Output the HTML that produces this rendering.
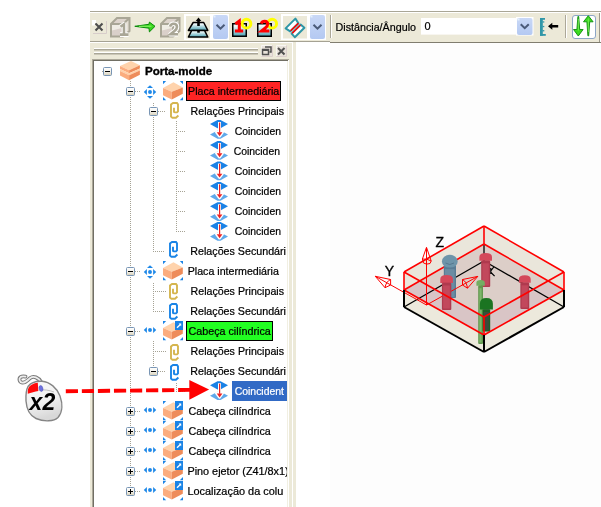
<!DOCTYPE html>
<html><head><meta charset="utf-8"><style>
html,body{margin:0;padding:0;width:601px;height:507px;overflow:hidden;background:#fff}
</style></head><body>
<svg width="601" height="507" viewBox="0 0 601 507" style="position:absolute;left:0;top:0;font-family:'Liberation Sans', sans-serif;will-change:transform">
<defs>
 <linearGradient id="gExp" x1="0" y1="0" x2="0" y2="1">
  <stop offset="0" stop-color="#ffffff"/><stop offset="0.45" stop-color="#F6F4EE"/><stop offset="1" stop-color="#D6CFB8"/>
 </linearGradient>
 <linearGradient id="gTeal" x1="0" y1="0" x2="0" y2="1">
  <stop offset="0" stop-color="#FFFFFF"/><stop offset="0.25" stop-color="#E6F4F6"/><stop offset="1" stop-color="#4AA2B2"/>
 </linearGradient>
 <linearGradient id="gDrop" x1="0" y1="0" x2="0" y2="1">
  <stop offset="0" stop-color="#C9D8F6"/><stop offset="1" stop-color="#B4C9F2"/>
 </linearGradient>
 <g id="expM">
  <rect x="0.5" y="0.5" width="8" height="8" rx="1" fill="url(#gExp)" stroke="#7895B5"/>
  <rect x="2" y="4" width="5" height="1" fill="#000"/>
 </g>
 <g id="expP">
  <rect x="0.5" y="0.5" width="8" height="8" rx="1" fill="url(#gExp)" stroke="#7895B5"/>
  <rect x="2" y="4" width="5" height="1" fill="#000"/>
  <rect x="4" y="2" width="1" height="5" fill="#000"/>
 </g>
 <!-- root stack icon 20x19 -->
 <g id="icStack">
  <polygon points="11,0 19.9,4.2 9.1,9.2 0,5.1" fill="#FFD3AC"/>
  <polygon points="0,5.1 9.1,9.2 9.1,12.2 0,8" fill="#FBAC7E"/>
  <polygon points="9.1,9.2 19.9,4.2 19.9,7.4 9.1,12.2" fill="#EE8C5A"/>
  <polygon points="0,8 9.1,12.2 19.9,7.4 19.9,9.6 9.1,14.2 0,9.9" fill="#FFD0A8"/>
  <polygon points="0,9.9 9.1,14.2 9.1,19.2 0,14.6" fill="#FBAC7E"/>
  <polygon points="9.1,14.2 19.9,9.6 19.9,13.8 9.1,19.2" fill="#EE8C5A"/>
 </g>
 <!-- box icon 20x19 with corners -->
 <g id="icBox">
  <polygon points="0,7 10.5,1.2 19.8,6.5 8.8,10.8" fill="#FFD3AC"/>
  <polygon points="0,7 8.8,10.8 8.8,18.5 0,14.2" fill="#FBAC7E"/>
  <polygon points="8.8,10.8 19.8,6.5 19.8,12.8 8.8,18.5" fill="#EE8C5A"/>
 </g>
 <g id="corners" fill="#1A84E6">
  <polygon points="0,0 3.2,0 0,3.2"/>
  <polygon points="20,0 16.8,0 20,3.2"/>
  <polygon points="0,19.2 0,16 3.2,19.2"/>
  <polygon points="20,19.2 20,16 16.8,19.2"/>
 </g>
 <g id="badge">
  <rect x="0" y="0" width="8" height="9" fill="#1A84E6"/>
  <path d="M2,6.8 L5.6,3.2" stroke="#fff" stroke-width="1.3" fill="none"/>
  <polygon points="3.6,2.6 6.2,2.6 6.2,5.2" fill="#fff"/>
 </g>
 <!-- move icon 14x14 centered at 7,7 -->
 <g id="icMove" fill="#1E88E8">
  <polygon points="7,0.2 10,3 4,3"/>
  <polygon points="7,13.8 10,11 4,11"/>
  <polygon points="0.8,7 3.9,4 3.9,10"/>
  <polygon points="13.2,7 10.1,4 10.1,10"/>
  <circle cx="7" cy="7" r="1.95"/>
 </g>
 <!-- lr icon 14x8, center at 7,4 -->
 <g id="icLR" fill="#1E88E8">
  <polygon points="0.8,4 3.9,1 3.9,7"/>
  <polygon points="13.2,4 10.1,1 10.1,7"/>
  <circle cx="7" cy="4" r="1.95"/>
 </g>
 <!-- paperclip 9x17 -->
 <g id="clip" fill="none" stroke-width="1.9" stroke-linejoin="miter">
  <path d="M4,5.8 V9.9 L5,10.4 H7 L8,9.4 V2.4 L7,1 H3 L1,2.4 V14.6 L2.4,15.8 H6 L8.4,13.5"/>
 </g>
 <!-- coincident icon 18x19 -->
 <g id="icCoin">
  <path d="M7.5,0 H10.5 L18,4 L10.5,8.3 H7.5 L0,4 Z" fill="#1A82E6"/>
  <path d="M7.5,10.5 H10.5 L18,14.6 L10.5,18.8 H7.5 L0,14.6 Z" fill="#5FA9EA"/>
  <path d="M9.5,2 V13 M6.5,12 L9.5,16 L12.5,12 Z" stroke="#fff" stroke-width="3" fill="#fff" stroke-linejoin="round"/>
  <rect x="9" y="2.5" width="1.2" height="10" fill="#EE2222"/>
  <polygon points="6.8,12.3 12.4,12.3 9.6,16.2" fill="#EE2222"/>
 </g>
</defs>
<rect width="601" height="507" fill="#fff"/><rect x="90" y="11" width="511" height="31" fill="#ECE9D8"/><rect x="90" y="11" width="511" height="1" fill="#A9A696"/><rect x="90" y="12" width="511" height="1" fill="#FFFFFF"/><rect x="90" y="41" width="240" height="1" fill="#A5A293"/><rect x="330" y="42" width="271" height="1" fill="#807D6F"/><path d="M92,20 H96 V22 L97,23 H95 V25.5 H92 Z" fill="#FFFFFF"/><path d="M106.5,21 V33.5 H93" stroke="#D8CDCA" fill="none"/><path d="M95.5,23.5 L102.5,30.5 M102.5,23.5 L95.5,30.5" stroke="#4E4E4E" stroke-width="2.1"/><g transform="translate(110,17)"><polygon points="1,7 7,1 19,1 13,7" fill="#DDD4CC"/><rect x="1" y="7" width="12" height="12.5" fill="#EFECE4"/><polygon points="2,13.5 12,11 12,19 2,19" fill="#DAD0CA"/><polygon points="13,7 19,1 19,14 13,19.5" fill="#E6E0D6"/><path d="M1,19.5 V7 L7,1 H19.5 V14 L13,19.5 Z M1,7 H13 V19.5 M13,7 L19.5,1" stroke="#A9A696" stroke-width="2" fill="none" stroke-linejoin="miter"/><path d="M10.5,9.8 L14,7.3 V17.6 M10,17.6 H18.5" stroke="#FFFFFF" stroke-width="4.6" fill="none" stroke-linejoin="round"/><path d="M10.5,9.8 L14,7.3 V17.6 M10,17.6 H18.5" stroke="#A9A696" stroke-width="2.6" fill="none"/></g><g transform="translate(160,17)"><polygon points="1,7 7,1 19,1 13,7" fill="#DDD4CC"/><rect x="1" y="7" width="12" height="12.5" fill="#EFECE4"/><polygon points="2,13.5 12,11 12,19 2,19" fill="#DAD0CA"/><polygon points="13,7 19,1 19,14 13,19.5" fill="#E6E0D6"/><path d="M1,19.5 V7 L7,1 H19.5 V14 L13,19.5 Z M1,7 H13 V19.5 M13,7 L19.5,1" stroke="#A9A696" stroke-width="2" fill="none" stroke-linejoin="miter"/><path d="M10,9.6 Q11,6.8 13.6,6.8 Q17,6.8 17,10 Q17,12 14.2,14.2 L10.5,17.2 H18" stroke="#FFFFFF" stroke-width="4.6" fill="none" stroke-linejoin="round"/><path d="M10,9.6 Q11,6.8 13.6,6.8 Q17,6.8 17,10 Q17,12 14.2,14.2 L10.5,17.2 H18" stroke="#A9A696" stroke-width="2.6" fill="none"/></g><path d="M134.8,26.3 L149,24.3 L149.4,22.1 L155,26.3 L149.4,31.9 L149,28.2 Z" fill="#3AD61E" stroke="#0A8A0A" stroke-width="1" stroke-linejoin="round"/><path d="M139,26.3 L151.5,26.2" stroke="#8CF56A" stroke-width="1"/><rect x="184" y="14" width="45" height="26" fill="#FFFFFF"/><rect x="186" y="16" width="24" height="22.5" fill="#ECE9D8"/><rect x="213" y="15" width="15" height="24" rx="2" fill="url(#gDrop)"/><rect x="213.5" y="15.5" width="2" height="2" fill="#E4F0FC"/><path d="M216.5,24.7 L220.5,28.7 L224.5,24.7" stroke="#4A5A78" stroke-width="2" fill="none"/><polygon points="193.2,22.5 203.7,22.5 207.8,30.4 188.4,30.4" fill="url(#gTeal)" stroke="#000" stroke-width="1.5" stroke-linejoin="round"/><polygon points="191.7,30.4 204.5,30.4 207.8,37 188.4,37" fill="url(#gTeal)" stroke="#000" stroke-width="1.5" stroke-linejoin="round"/><rect x="197.2" y="20" width="2.6" height="6" fill="#000"/><polygon points="195.7,21 201.3,21 198.5,17.6" fill="#000"/><rect x="197.2" y="30.5" width="2.6" height="2.2" fill="#000"/><rect x="232.75" y="23.75" width="13.5" height="12.5" fill="url(#gTeal)" stroke="#000" stroke-width="1.5"/><circle cx="246.5" cy="23.7" r="4.35" fill="none" stroke="#FFFF00" stroke-width="3"/><path d="M235.4,24 L239.3,21 V31 M234.9,31 H243.2" stroke="#FF0000" stroke-width="3" fill="none"/><rect x="257.75" y="23.75" width="13.5" height="12.5" fill="url(#gTeal)" stroke="#000" stroke-width="1.5"/><circle cx="272.2" cy="23.7" r="4.35" fill="none" stroke="#FFFF00" stroke-width="3"/><path d="M261.2,23.6 Q262.2,21.2 264.6,21.2 Q267.7,21.2 267.7,24.2 Q267.7,26.2 265,28.2 L261.6,30.9 H269.4" stroke="#FF0000" stroke-width="3" fill="none"/><rect x="281" y="14" width="45" height="26" fill="#FFFFFF"/><rect x="283" y="16" width="24" height="22.5" fill="#ECE9D8"/><rect x="310" y="15" width="15" height="24" rx="2" fill="url(#gDrop)"/><rect x="310.5" y="15.5" width="2" height="2" fill="#E4F0FC"/><path d="M313.5,24.7 L317.5,28.7 L321.5,24.7" stroke="#4A5A78" stroke-width="2" fill="none"/><polygon points="295.4,18.6 298.4,23.2 290.2,31.4 285.6,28.4" fill="#FFFFFF" stroke="#2E96A6" stroke-width="2" stroke-linejoin="round"/><polygon points="300.6,24.6 304.4,27.8 294.8,37.2 291.6,33.6" fill="#FFFFFF" stroke="#2E96A6" stroke-width="2" stroke-linejoin="round"/><path d="M290.6,30.8 L298.4,23.2 M292.2,33.2 L300.4,25.2" stroke="#FF0000" stroke-width="1.6"/><rect x="330" y="15" width="1" height="23" fill="#ACA899"/><rect x="331" y="15" width="1" height="23" fill="#FFFFFF"/><text x="335.5" y="31" font-size="11" fill="#000" stroke="#000" stroke-width="0.22" textLength="80.5" lengthAdjust="spacingAndGlyphs">Distância/Ângulo</text><rect x="421" y="18" width="95" height="16.6" fill="#FFFFFF"/><rect x="516" y="17" width="17.5" height="18.5" fill="#FFFFFF"/><rect x="517" y="18" width="15.5" height="17" rx="2" fill="url(#gDrop)"/><rect x="517.5" y="18.5" width="2" height="2" fill="#E4F0FC"/><path d="M520.75,24.2 L524.75,28.2 L528.75,24.2" stroke="#4A5A78" stroke-width="2" fill="none"/><text x="424.6" y="29.7" font-size="11" fill="#000" stroke="#000" stroke-width="0.22">0</text><rect x="540" y="18" width="2.8" height="17.8" fill="#3197A8"/><rect x="540" y="18" width="5" height="1.8" fill="#3197A8"/><rect x="540" y="34" width="5.8" height="1.8" fill="#3197A8"/><rect x="542.5" y="21.3" width="1.8" height="1.3" fill="#3197A8"/><rect x="542.5" y="25.9" width="1.8" height="1.3" fill="#3197A8"/><rect x="542.5" y="30.1" width="1.8" height="1.3" fill="#3197A8"/><path d="M548,26.3 L552.3,22.8 L552.3,25 L558.2,25 L558.2,27.6 L552.3,27.6 L552.3,29.8 Z" fill="#000"/><rect x="565" y="15" width="1" height="23" fill="#ACA899"/><rect x="566" y="15" width="1" height="23" fill="#FFFFFF"/><rect x="572.5" y="15.5" width="23" height="23" rx="2.5" fill="#FFFFFF" stroke="#8CA6C6"/><path d="M577.9,16.5 L578.7,16.5 L579.7,29.5 L583.1,29.5 L578.3,36 L573.5,29.5 L576.9,29.5 Z" fill="#3ADA1E" stroke="#0A8A0A" stroke-width="0.9" stroke-linejoin="round"/><path d="M588.3,15.7 L593.1,21.8 L589.7,21.8 L588.7,35.8 L587.9,35.8 L586.9,21.8 L583.5,21.8 Z" fill="#3ADA1E" stroke="#0A8A0A" stroke-width="0.9" stroke-linejoin="round"/><path d="M578.3,19 L578.4,30.5 M588.3,18.5 L588.3,32" stroke="#8CF56A" stroke-width="0.7"/><rect x="599" y="13" width="1" height="29" fill="#9A978A"/><rect x="600" y="12" width="1" height="30" fill="#FFFFFF"/><rect x="330" y="43" width="271" height="464" fill="#FDFDFD"/><polygon points="404,290 484,335 564,290 564,307 484,352 404,307" fill="#ECE9DC"/><polygon points="484,226 564,272 564,290 484,335 404,290 404,272" fill="#EAE6DB"/><polygon points="404,290 484,244 564,290 484,335" fill="#DCCEC8"/><polygon points="419.8,280.9 484,317 548.2,280.9 564,290 484,335 404,290" fill="#D9C5C6"/><line x1="484" y1="261" x2="404" y2="307" stroke="#000" stroke-width="1.3"/><line x1="484" y1="261" x2="564" y2="307" stroke="#000" stroke-width="1.3"/><line x1="484" y1="244" x2="484" y2="261" stroke="#000" stroke-width="1.3"/><line x1="484" y1="226" x2="404" y2="272" stroke="#FF0000" stroke-width="1.6"/><line x1="484" y1="226" x2="564" y2="272" stroke="#FF0000" stroke-width="1.6"/><line x1="484" y1="244" x2="404" y2="290" stroke="#FF0000" stroke-width="1.6"/><line x1="484" y1="244" x2="564" y2="290" stroke="#FF0000" stroke-width="1.6"/><line x1="484" y1="226" x2="484" y2="244" stroke="#FF0000" stroke-width="1.6"/><rect x="443.8" y="265" width="12.2" height="33" rx="1" fill="#587C94"/><rect x="445" y="268" width="9.6" height="29" fill="#6A8CA3"/><ellipse cx="449.8" cy="261.4" rx="7.9" ry="6.6" fill="#6D95AA"/><path d="M445.5,263 Q449.8,266 454,263" stroke="#55788F" stroke-width="1" fill="none"/><rect x="444.5" y="267.5" width="10.8" height="1.6" fill="#587C94"/><rect x="481.2" y="260.8" width="9" height="26.2" rx="1" fill="#B03A4E"/><rect x="482.4" y="263.3" width="6.4" height="22.2" fill="#C2485C"/><path d="M479.4,260.8 V256.9 Q479.4,253 485.7,253 Q492.0,253 492.0,256.9 V260.8 Z" fill="#D4485A"/><rect x="481.7" y="260.3" width="8" height="2.5" fill="#B03A4E" opacity="0.7"/><path d="M490.8,268 V274 M490.8,270.8 L493.8,267 M491,272.5 L494.6,276.2" stroke="#000" stroke-width="1.2" fill="none"/><line x1="426.5" y1="305" x2="426.5" y2="248" stroke="#FF0000" stroke-width="1"/><line x1="426.5" y1="305" x2="375.3" y2="276.3" stroke="#FF0000" stroke-width="1"/><line x1="426.5" y1="305" x2="477.8" y2="276.4" stroke="#FF0000" stroke-width="1"/><path d="M426.5,247.3 L422.4,259 M426.5,247.3 L431.2,261 M422.4,259 L423.5,263 Q426.5,265 430,263.5 L431.2,261 M422.4,259 Q427,258.5 431.2,261" stroke="#FF0000" stroke-width="1" fill="none"/><path d="M375.3,276.3 L390.6,279.5 M375.3,276.3 L385,287.7 M390.6,279.5 L390.6,285 L385,287.7 M390.6,279.5 Q386,281.5 385,287.7" stroke="#FF0000" stroke-width="1" fill="none"/><path d="M477.8,276.4 L462.5,279.5 M477.8,276.4 L467.5,288.2 M462.5,279.5 L462.5,285 L467.5,288.2 M462.5,279.5 Q466.5,281.5 467.5,288.2" stroke="#FF0000" stroke-width="1" fill="none"/><rect x="441.90000000000003" y="283" width="9.4" height="27" rx="1" fill="#B03A4E"/><rect x="443.1" y="285.5" width="6.800000000000001" height="23" fill="#C2485C"/><path d="M440.3,283 V279.0 Q440.3,275 446.6,275 Q452.90000000000003,275 452.90000000000003,279.0 V283 Z" fill="#D4485A"/><rect x="442.40000000000003" y="282.5" width="8.4" height="2.5" fill="#B03A4E" opacity="0.7"/><rect x="520.3499999999999" y="282.8" width="8.9" height="26.20000000000001" rx="1" fill="#B03A4E"/><rect x="521.55" y="285.3" width="6.300000000000001" height="22.20000000000001" fill="#C2485C"/><path d="M518.9,282.8 V279.0 Q518.9,275.2 524.8,275.2 Q530.6999999999999,275.2 530.6999999999999,279.0 V282.8 Z" fill="#D4485A"/><rect x="520.8499999999999" y="282.3" width="7.9" height="2.5" fill="#B03A4E" opacity="0.7"/><rect x="478.20000000000005" y="285.7" width="4.8" height="58.3" rx="1" fill="#62984F"/><rect x="479.40000000000003" y="288.2" width="2.1999999999999997" height="54.3" fill="#7DB86A"/><path d="M476.40000000000003,285.7 V282.85 Q476.40000000000003,280 480.6,280 Q484.8,280 484.8,282.85 V285.7 Z" fill="#73AE62"/><rect x="478.70000000000005" y="285.2" width="3.8" height="2.5" fill="#62984F" opacity="0.7"/><rect x="482.59999999999997" y="309.5" width="7.6" height="22.0" rx="1" fill="#1E5E26"/><rect x="483.79999999999995" y="312.0" width="5.0" height="18.0" fill="#3A4C3C"/><path d="M479.9,309.5 V303.75 Q479.9,298 486.4,298 Q492.9,298 492.9,303.75 V309.5 Z" fill="#1B7421"/><rect x="483.09999999999997" y="309.0" width="6.6" height="2.5" fill="#1E5E26" opacity="0.7"/><line x1="404" y1="272" x2="484" y2="317" stroke="#FF0000" stroke-width="1.6"/><line x1="484" y1="317" x2="564" y2="272" stroke="#FF0000" stroke-width="1.6"/><line x1="404" y1="290" x2="484" y2="335" stroke="#FF0000" stroke-width="1.6"/><line x1="484" y1="335" x2="564" y2="290" stroke="#FF0000" stroke-width="1.6"/><line x1="404" y1="272" x2="404" y2="290" stroke="#FF0000" stroke-width="1.6"/><line x1="564" y1="272" x2="564" y2="290" stroke="#FF0000" stroke-width="1.6"/><line x1="484" y1="317" x2="484" y2="335" stroke="#FF0000" stroke-width="1.6"/><line x1="404" y1="290" x2="404" y2="307" stroke="#000" stroke-width="2"/><line x1="404" y1="307" x2="484" y2="352" stroke="#000" stroke-width="2"/><line x1="484" y1="352" x2="564" y2="307" stroke="#000" stroke-width="2"/><line x1="564" y1="290" x2="564" y2="307" stroke="#000" stroke-width="2"/><line x1="484" y1="335" x2="484" y2="352" stroke="#000" stroke-width="2"/><text x="435.5" y="247.3" font-size="14" fill="#000" stroke="#000" stroke-width="0.35">Z</text><text x="384.8" y="276.3" font-size="14" fill="#000" stroke="#000" stroke-width="0.35">Y</text><rect x="90" y="42" width="203" height="465" fill="#ECE9D8"/><rect x="90" y="42" width="203" height="1" fill="#FFFFFF"/><rect x="94" y="48" width="164" height="1" fill="#FFFFFF"/><rect x="94" y="49" width="164" height="1.5" fill="#A9A696"/><rect x="94" y="52" width="164" height="1" fill="#FFFFFF"/><rect x="94" y="53" width="164" height="1.5" fill="#A9A696"/><rect x="261" y="45.5" width="11.5" height="11" fill="#E8E2DA"/><path d="M261.5,56 V45.5 H272" stroke="#F8F6F2" fill="none"/><path d="M261.5,56.5 H272.5 V45.5" stroke="#DCCFCD" fill="none"/><rect x="276" y="45.5" width="11" height="11" fill="#E8E2DA"/><path d="M276.5,56 V45.5 H286.5" stroke="#F8F6F2" fill="none"/><path d="M276.5,56.5 H286.5 V45.5" stroke="#DCCFCD" fill="none"/><path d="M265,47 H271 V52 H269.5" stroke="#505050" stroke-width="1.5" fill="none"/><rect x="262.5" y="49.5" width="6" height="5" fill="none" stroke="#505050" stroke-width="1.5"/><rect x="262" y="49" width="7" height="2" fill="#505050"/><path d="M278,48 L284.5,54.5 M284.5,48 L278,54.5" stroke="#505050" stroke-width="2"/><rect x="292" y="42" width="1" height="465" fill="#FFFFFF"/><rect x="293" y="42" width="3" height="465" fill="#ECE9D8"/><rect x="92" y="59" width="197" height="460" fill="#ACA899"/><rect x="93" y="60" width="196" height="460" fill="#716F64"/><rect x="94" y="61" width="193" height="460" fill="#FFFFFF"/><rect x="287" y="61" width="1" height="460" fill="#F1EFE2"/><rect x="288" y="60" width="1" height="460" fill="#FFFFFF"/><svg x="94" y="61" width="193" height="446" viewBox="94 61 193 446" overflow="hidden"><rect x="130" y="81" width="1" height="1" fill="#A5A294"/><rect x="130" y="83" width="1" height="1" fill="#A5A294"/><rect x="130" y="85" width="1" height="1" fill="#A5A294"/><rect x="130" y="87" width="1" height="1" fill="#A5A294"/><rect x="130" y="89" width="1" height="1" fill="#A5A294"/><rect x="130" y="91" width="1" height="1" fill="#A5A294"/><rect x="130" y="93" width="1" height="1" fill="#A5A294"/><rect x="130" y="95" width="1" height="1" fill="#A5A294"/><rect x="130" y="97" width="1" height="1" fill="#A5A294"/><rect x="130" y="99" width="1" height="1" fill="#A5A294"/><rect x="130" y="101" width="1" height="1" fill="#A5A294"/><rect x="130" y="103" width="1" height="1" fill="#A5A294"/><rect x="130" y="105" width="1" height="1" fill="#A5A294"/><rect x="130" y="107" width="1" height="1" fill="#A5A294"/><rect x="130" y="109" width="1" height="1" fill="#A5A294"/><rect x="130" y="111" width="1" height="1" fill="#A5A294"/><rect x="130" y="113" width="1" height="1" fill="#A5A294"/><rect x="130" y="115" width="1" height="1" fill="#A5A294"/><rect x="130" y="117" width="1" height="1" fill="#A5A294"/><rect x="130" y="119" width="1" height="1" fill="#A5A294"/><rect x="130" y="121" width="1" height="1" fill="#A5A294"/><rect x="130" y="123" width="1" height="1" fill="#A5A294"/><rect x="130" y="125" width="1" height="1" fill="#A5A294"/><rect x="130" y="127" width="1" height="1" fill="#A5A294"/><rect x="130" y="129" width="1" height="1" fill="#A5A294"/><rect x="130" y="131" width="1" height="1" fill="#A5A294"/><rect x="130" y="133" width="1" height="1" fill="#A5A294"/><rect x="130" y="135" width="1" height="1" fill="#A5A294"/><rect x="130" y="137" width="1" height="1" fill="#A5A294"/><rect x="130" y="139" width="1" height="1" fill="#A5A294"/><rect x="130" y="141" width="1" height="1" fill="#A5A294"/><rect x="130" y="143" width="1" height="1" fill="#A5A294"/><rect x="130" y="145" width="1" height="1" fill="#A5A294"/><rect x="130" y="147" width="1" height="1" fill="#A5A294"/><rect x="130" y="149" width="1" height="1" fill="#A5A294"/><rect x="130" y="151" width="1" height="1" fill="#A5A294"/><rect x="130" y="153" width="1" height="1" fill="#A5A294"/><rect x="130" y="155" width="1" height="1" fill="#A5A294"/><rect x="130" y="157" width="1" height="1" fill="#A5A294"/><rect x="130" y="159" width="1" height="1" fill="#A5A294"/><rect x="130" y="161" width="1" height="1" fill="#A5A294"/><rect x="130" y="163" width="1" height="1" fill="#A5A294"/><rect x="130" y="165" width="1" height="1" fill="#A5A294"/><rect x="130" y="167" width="1" height="1" fill="#A5A294"/><rect x="130" y="169" width="1" height="1" fill="#A5A294"/><rect x="130" y="171" width="1" height="1" fill="#A5A294"/><rect x="130" y="173" width="1" height="1" fill="#A5A294"/><rect x="130" y="175" width="1" height="1" fill="#A5A294"/><rect x="130" y="177" width="1" height="1" fill="#A5A294"/><rect x="130" y="179" width="1" height="1" fill="#A5A294"/><rect x="130" y="181" width="1" height="1" fill="#A5A294"/><rect x="130" y="183" width="1" height="1" fill="#A5A294"/><rect x="130" y="185" width="1" height="1" fill="#A5A294"/><rect x="130" y="187" width="1" height="1" fill="#A5A294"/><rect x="130" y="189" width="1" height="1" fill="#A5A294"/><rect x="130" y="191" width="1" height="1" fill="#A5A294"/><rect x="130" y="193" width="1" height="1" fill="#A5A294"/><rect x="130" y="195" width="1" height="1" fill="#A5A294"/><rect x="130" y="197" width="1" height="1" fill="#A5A294"/><rect x="130" y="199" width="1" height="1" fill="#A5A294"/><rect x="130" y="201" width="1" height="1" fill="#A5A294"/><rect x="130" y="203" width="1" height="1" fill="#A5A294"/><rect x="130" y="205" width="1" height="1" fill="#A5A294"/><rect x="130" y="207" width="1" height="1" fill="#A5A294"/><rect x="130" y="209" width="1" height="1" fill="#A5A294"/><rect x="130" y="211" width="1" height="1" fill="#A5A294"/><rect x="130" y="213" width="1" height="1" fill="#A5A294"/><rect x="130" y="215" width="1" height="1" fill="#A5A294"/><rect x="130" y="217" width="1" height="1" fill="#A5A294"/><rect x="130" y="219" width="1" height="1" fill="#A5A294"/><rect x="130" y="221" width="1" height="1" fill="#A5A294"/><rect x="130" y="223" width="1" height="1" fill="#A5A294"/><rect x="130" y="225" width="1" height="1" fill="#A5A294"/><rect x="130" y="227" width="1" height="1" fill="#A5A294"/><rect x="130" y="229" width="1" height="1" fill="#A5A294"/><rect x="130" y="231" width="1" height="1" fill="#A5A294"/><rect x="130" y="233" width="1" height="1" fill="#A5A294"/><rect x="130" y="235" width="1" height="1" fill="#A5A294"/><rect x="130" y="237" width="1" height="1" fill="#A5A294"/><rect x="130" y="239" width="1" height="1" fill="#A5A294"/><rect x="130" y="241" width="1" height="1" fill="#A5A294"/><rect x="130" y="243" width="1" height="1" fill="#A5A294"/><rect x="130" y="245" width="1" height="1" fill="#A5A294"/><rect x="130" y="247" width="1" height="1" fill="#A5A294"/><rect x="130" y="249" width="1" height="1" fill="#A5A294"/><rect x="130" y="251" width="1" height="1" fill="#A5A294"/><rect x="130" y="253" width="1" height="1" fill="#A5A294"/><rect x="130" y="255" width="1" height="1" fill="#A5A294"/><rect x="130" y="257" width="1" height="1" fill="#A5A294"/><rect x="130" y="259" width="1" height="1" fill="#A5A294"/><rect x="130" y="261" width="1" height="1" fill="#A5A294"/><rect x="130" y="263" width="1" height="1" fill="#A5A294"/><rect x="130" y="265" width="1" height="1" fill="#A5A294"/><rect x="130" y="267" width="1" height="1" fill="#A5A294"/><rect x="130" y="269" width="1" height="1" fill="#A5A294"/><rect x="130" y="271" width="1" height="1" fill="#A5A294"/><rect x="130" y="273" width="1" height="1" fill="#A5A294"/><rect x="130" y="275" width="1" height="1" fill="#A5A294"/><rect x="130" y="277" width="1" height="1" fill="#A5A294"/><rect x="130" y="279" width="1" height="1" fill="#A5A294"/><rect x="130" y="281" width="1" height="1" fill="#A5A294"/><rect x="130" y="283" width="1" height="1" fill="#A5A294"/><rect x="130" y="285" width="1" height="1" fill="#A5A294"/><rect x="130" y="287" width="1" height="1" fill="#A5A294"/><rect x="130" y="289" width="1" height="1" fill="#A5A294"/><rect x="130" y="291" width="1" height="1" fill="#A5A294"/><rect x="130" y="293" width="1" height="1" fill="#A5A294"/><rect x="130" y="295" width="1" height="1" fill="#A5A294"/><rect x="130" y="297" width="1" height="1" fill="#A5A294"/><rect x="130" y="299" width="1" height="1" fill="#A5A294"/><rect x="130" y="301" width="1" height="1" fill="#A5A294"/><rect x="130" y="303" width="1" height="1" fill="#A5A294"/><rect x="130" y="305" width="1" height="1" fill="#A5A294"/><rect x="130" y="307" width="1" height="1" fill="#A5A294"/><rect x="130" y="309" width="1" height="1" fill="#A5A294"/><rect x="130" y="311" width="1" height="1" fill="#A5A294"/><rect x="130" y="313" width="1" height="1" fill="#A5A294"/><rect x="130" y="315" width="1" height="1" fill="#A5A294"/><rect x="130" y="317" width="1" height="1" fill="#A5A294"/><rect x="130" y="319" width="1" height="1" fill="#A5A294"/><rect x="130" y="321" width="1" height="1" fill="#A5A294"/><rect x="130" y="323" width="1" height="1" fill="#A5A294"/><rect x="130" y="325" width="1" height="1" fill="#A5A294"/><rect x="130" y="327" width="1" height="1" fill="#A5A294"/><rect x="130" y="329" width="1" height="1" fill="#A5A294"/><rect x="130" y="331" width="1" height="1" fill="#A5A294"/><rect x="130" y="333" width="1" height="1" fill="#A5A294"/><rect x="130" y="335" width="1" height="1" fill="#A5A294"/><rect x="130" y="337" width="1" height="1" fill="#A5A294"/><rect x="130" y="339" width="1" height="1" fill="#A5A294"/><rect x="130" y="341" width="1" height="1" fill="#A5A294"/><rect x="130" y="343" width="1" height="1" fill="#A5A294"/><rect x="130" y="345" width="1" height="1" fill="#A5A294"/><rect x="130" y="347" width="1" height="1" fill="#A5A294"/><rect x="130" y="349" width="1" height="1" fill="#A5A294"/><rect x="130" y="351" width="1" height="1" fill="#A5A294"/><rect x="130" y="353" width="1" height="1" fill="#A5A294"/><rect x="130" y="355" width="1" height="1" fill="#A5A294"/><rect x="130" y="357" width="1" height="1" fill="#A5A294"/><rect x="130" y="359" width="1" height="1" fill="#A5A294"/><rect x="130" y="361" width="1" height="1" fill="#A5A294"/><rect x="130" y="363" width="1" height="1" fill="#A5A294"/><rect x="130" y="365" width="1" height="1" fill="#A5A294"/><rect x="130" y="367" width="1" height="1" fill="#A5A294"/><rect x="130" y="369" width="1" height="1" fill="#A5A294"/><rect x="130" y="371" width="1" height="1" fill="#A5A294"/><rect x="130" y="373" width="1" height="1" fill="#A5A294"/><rect x="130" y="375" width="1" height="1" fill="#A5A294"/><rect x="130" y="377" width="1" height="1" fill="#A5A294"/><rect x="130" y="379" width="1" height="1" fill="#A5A294"/><rect x="130" y="381" width="1" height="1" fill="#A5A294"/><rect x="130" y="383" width="1" height="1" fill="#A5A294"/><rect x="130" y="385" width="1" height="1" fill="#A5A294"/><rect x="130" y="387" width="1" height="1" fill="#A5A294"/><rect x="130" y="389" width="1" height="1" fill="#A5A294"/><rect x="130" y="391" width="1" height="1" fill="#A5A294"/><rect x="130" y="393" width="1" height="1" fill="#A5A294"/><rect x="130" y="395" width="1" height="1" fill="#A5A294"/><rect x="130" y="397" width="1" height="1" fill="#A5A294"/><rect x="130" y="399" width="1" height="1" fill="#A5A294"/><rect x="130" y="401" width="1" height="1" fill="#A5A294"/><rect x="130" y="403" width="1" height="1" fill="#A5A294"/><rect x="130" y="405" width="1" height="1" fill="#A5A294"/><rect x="130" y="407" width="1" height="1" fill="#A5A294"/><rect x="130" y="409" width="1" height="1" fill="#A5A294"/><rect x="130" y="411" width="1" height="1" fill="#A5A294"/><rect x="130" y="413" width="1" height="1" fill="#A5A294"/><rect x="130" y="415" width="1" height="1" fill="#A5A294"/><rect x="130" y="417" width="1" height="1" fill="#A5A294"/><rect x="130" y="419" width="1" height="1" fill="#A5A294"/><rect x="130" y="421" width="1" height="1" fill="#A5A294"/><rect x="130" y="423" width="1" height="1" fill="#A5A294"/><rect x="130" y="425" width="1" height="1" fill="#A5A294"/><rect x="130" y="427" width="1" height="1" fill="#A5A294"/><rect x="130" y="429" width="1" height="1" fill="#A5A294"/><rect x="130" y="431" width="1" height="1" fill="#A5A294"/><rect x="130" y="433" width="1" height="1" fill="#A5A294"/><rect x="130" y="435" width="1" height="1" fill="#A5A294"/><rect x="130" y="437" width="1" height="1" fill="#A5A294"/><rect x="130" y="439" width="1" height="1" fill="#A5A294"/><rect x="130" y="441" width="1" height="1" fill="#A5A294"/><rect x="130" y="443" width="1" height="1" fill="#A5A294"/><rect x="130" y="445" width="1" height="1" fill="#A5A294"/><rect x="130" y="447" width="1" height="1" fill="#A5A294"/><rect x="130" y="449" width="1" height="1" fill="#A5A294"/><rect x="130" y="451" width="1" height="1" fill="#A5A294"/><rect x="130" y="453" width="1" height="1" fill="#A5A294"/><rect x="130" y="455" width="1" height="1" fill="#A5A294"/><rect x="130" y="457" width="1" height="1" fill="#A5A294"/><rect x="130" y="459" width="1" height="1" fill="#A5A294"/><rect x="130" y="461" width="1" height="1" fill="#A5A294"/><rect x="130" y="463" width="1" height="1" fill="#A5A294"/><rect x="130" y="465" width="1" height="1" fill="#A5A294"/><rect x="130" y="467" width="1" height="1" fill="#A5A294"/><rect x="130" y="469" width="1" height="1" fill="#A5A294"/><rect x="130" y="471" width="1" height="1" fill="#A5A294"/><rect x="130" y="473" width="1" height="1" fill="#A5A294"/><rect x="130" y="475" width="1" height="1" fill="#A5A294"/><rect x="130" y="477" width="1" height="1" fill="#A5A294"/><rect x="130" y="479" width="1" height="1" fill="#A5A294"/><rect x="130" y="481" width="1" height="1" fill="#A5A294"/><rect x="130" y="483" width="1" height="1" fill="#A5A294"/><rect x="130" y="485" width="1" height="1" fill="#A5A294"/><rect x="130" y="487" width="1" height="1" fill="#A5A294"/><rect x="130" y="489" width="1" height="1" fill="#A5A294"/><rect x="130" y="491" width="1" height="1" fill="#A5A294"/><rect x="153" y="103" width="1" height="1" fill="#A5A294"/><rect x="153" y="105" width="1" height="1" fill="#A5A294"/><rect x="153" y="107" width="1" height="1" fill="#A5A294"/><rect x="153" y="109" width="1" height="1" fill="#A5A294"/><rect x="153" y="111" width="1" height="1" fill="#A5A294"/><rect x="153" y="113" width="1" height="1" fill="#A5A294"/><rect x="153" y="115" width="1" height="1" fill="#A5A294"/><rect x="153" y="117" width="1" height="1" fill="#A5A294"/><rect x="153" y="119" width="1" height="1" fill="#A5A294"/><rect x="153" y="121" width="1" height="1" fill="#A5A294"/><rect x="153" y="123" width="1" height="1" fill="#A5A294"/><rect x="153" y="125" width="1" height="1" fill="#A5A294"/><rect x="153" y="127" width="1" height="1" fill="#A5A294"/><rect x="153" y="129" width="1" height="1" fill="#A5A294"/><rect x="153" y="131" width="1" height="1" fill="#A5A294"/><rect x="153" y="133" width="1" height="1" fill="#A5A294"/><rect x="153" y="135" width="1" height="1" fill="#A5A294"/><rect x="153" y="137" width="1" height="1" fill="#A5A294"/><rect x="153" y="139" width="1" height="1" fill="#A5A294"/><rect x="153" y="141" width="1" height="1" fill="#A5A294"/><rect x="153" y="143" width="1" height="1" fill="#A5A294"/><rect x="153" y="145" width="1" height="1" fill="#A5A294"/><rect x="153" y="147" width="1" height="1" fill="#A5A294"/><rect x="153" y="149" width="1" height="1" fill="#A5A294"/><rect x="153" y="151" width="1" height="1" fill="#A5A294"/><rect x="153" y="153" width="1" height="1" fill="#A5A294"/><rect x="153" y="155" width="1" height="1" fill="#A5A294"/><rect x="153" y="157" width="1" height="1" fill="#A5A294"/><rect x="153" y="159" width="1" height="1" fill="#A5A294"/><rect x="153" y="161" width="1" height="1" fill="#A5A294"/><rect x="153" y="163" width="1" height="1" fill="#A5A294"/><rect x="153" y="165" width="1" height="1" fill="#A5A294"/><rect x="153" y="167" width="1" height="1" fill="#A5A294"/><rect x="153" y="169" width="1" height="1" fill="#A5A294"/><rect x="153" y="171" width="1" height="1" fill="#A5A294"/><rect x="153" y="173" width="1" height="1" fill="#A5A294"/><rect x="153" y="175" width="1" height="1" fill="#A5A294"/><rect x="153" y="177" width="1" height="1" fill="#A5A294"/><rect x="153" y="179" width="1" height="1" fill="#A5A294"/><rect x="153" y="181" width="1" height="1" fill="#A5A294"/><rect x="153" y="183" width="1" height="1" fill="#A5A294"/><rect x="153" y="185" width="1" height="1" fill="#A5A294"/><rect x="153" y="187" width="1" height="1" fill="#A5A294"/><rect x="153" y="189" width="1" height="1" fill="#A5A294"/><rect x="153" y="191" width="1" height="1" fill="#A5A294"/><rect x="153" y="193" width="1" height="1" fill="#A5A294"/><rect x="153" y="195" width="1" height="1" fill="#A5A294"/><rect x="153" y="197" width="1" height="1" fill="#A5A294"/><rect x="153" y="199" width="1" height="1" fill="#A5A294"/><rect x="153" y="201" width="1" height="1" fill="#A5A294"/><rect x="153" y="203" width="1" height="1" fill="#A5A294"/><rect x="153" y="205" width="1" height="1" fill="#A5A294"/><rect x="153" y="207" width="1" height="1" fill="#A5A294"/><rect x="153" y="209" width="1" height="1" fill="#A5A294"/><rect x="153" y="211" width="1" height="1" fill="#A5A294"/><rect x="153" y="213" width="1" height="1" fill="#A5A294"/><rect x="153" y="215" width="1" height="1" fill="#A5A294"/><rect x="153" y="217" width="1" height="1" fill="#A5A294"/><rect x="153" y="219" width="1" height="1" fill="#A5A294"/><rect x="153" y="221" width="1" height="1" fill="#A5A294"/><rect x="153" y="223" width="1" height="1" fill="#A5A294"/><rect x="153" y="225" width="1" height="1" fill="#A5A294"/><rect x="153" y="227" width="1" height="1" fill="#A5A294"/><rect x="153" y="229" width="1" height="1" fill="#A5A294"/><rect x="153" y="231" width="1" height="1" fill="#A5A294"/><rect x="153" y="233" width="1" height="1" fill="#A5A294"/><rect x="153" y="235" width="1" height="1" fill="#A5A294"/><rect x="153" y="237" width="1" height="1" fill="#A5A294"/><rect x="153" y="239" width="1" height="1" fill="#A5A294"/><rect x="153" y="241" width="1" height="1" fill="#A5A294"/><rect x="153" y="243" width="1" height="1" fill="#A5A294"/><rect x="153" y="245" width="1" height="1" fill="#A5A294"/><rect x="153" y="247" width="1" height="1" fill="#A5A294"/><rect x="153" y="249" width="1" height="1" fill="#A5A294"/><rect x="153" y="251" width="1" height="1" fill="#A5A294"/><rect x="153" y="283" width="1" height="1" fill="#A5A294"/><rect x="153" y="285" width="1" height="1" fill="#A5A294"/><rect x="153" y="287" width="1" height="1" fill="#A5A294"/><rect x="153" y="289" width="1" height="1" fill="#A5A294"/><rect x="153" y="291" width="1" height="1" fill="#A5A294"/><rect x="153" y="293" width="1" height="1" fill="#A5A294"/><rect x="153" y="295" width="1" height="1" fill="#A5A294"/><rect x="153" y="297" width="1" height="1" fill="#A5A294"/><rect x="153" y="299" width="1" height="1" fill="#A5A294"/><rect x="153" y="301" width="1" height="1" fill="#A5A294"/><rect x="153" y="303" width="1" height="1" fill="#A5A294"/><rect x="153" y="305" width="1" height="1" fill="#A5A294"/><rect x="153" y="307" width="1" height="1" fill="#A5A294"/><rect x="153" y="309" width="1" height="1" fill="#A5A294"/><rect x="153" y="311" width="1" height="1" fill="#A5A294"/><rect x="153" y="341" width="1" height="1" fill="#A5A294"/><rect x="153" y="343" width="1" height="1" fill="#A5A294"/><rect x="153" y="345" width="1" height="1" fill="#A5A294"/><rect x="153" y="347" width="1" height="1" fill="#A5A294"/><rect x="153" y="349" width="1" height="1" fill="#A5A294"/><rect x="153" y="351" width="1" height="1" fill="#A5A294"/><rect x="153" y="353" width="1" height="1" fill="#A5A294"/><rect x="153" y="355" width="1" height="1" fill="#A5A294"/><rect x="153" y="357" width="1" height="1" fill="#A5A294"/><rect x="153" y="359" width="1" height="1" fill="#A5A294"/><rect x="153" y="361" width="1" height="1" fill="#A5A294"/><rect x="153" y="363" width="1" height="1" fill="#A5A294"/><rect x="153" y="365" width="1" height="1" fill="#A5A294"/><rect x="153" y="367" width="1" height="1" fill="#A5A294"/><rect x="153" y="369" width="1" height="1" fill="#A5A294"/><rect x="153" y="371" width="1" height="1" fill="#A5A294"/><rect x="176" y="121" width="1" height="1" fill="#A5A294"/><rect x="176" y="123" width="1" height="1" fill="#A5A294"/><rect x="176" y="125" width="1" height="1" fill="#A5A294"/><rect x="176" y="127" width="1" height="1" fill="#A5A294"/><rect x="176" y="129" width="1" height="1" fill="#A5A294"/><rect x="176" y="131" width="1" height="1" fill="#A5A294"/><rect x="176" y="133" width="1" height="1" fill="#A5A294"/><rect x="176" y="135" width="1" height="1" fill="#A5A294"/><rect x="176" y="137" width="1" height="1" fill="#A5A294"/><rect x="176" y="139" width="1" height="1" fill="#A5A294"/><rect x="176" y="141" width="1" height="1" fill="#A5A294"/><rect x="176" y="143" width="1" height="1" fill="#A5A294"/><rect x="176" y="145" width="1" height="1" fill="#A5A294"/><rect x="176" y="147" width="1" height="1" fill="#A5A294"/><rect x="176" y="149" width="1" height="1" fill="#A5A294"/><rect x="176" y="151" width="1" height="1" fill="#A5A294"/><rect x="176" y="153" width="1" height="1" fill="#A5A294"/><rect x="176" y="155" width="1" height="1" fill="#A5A294"/><rect x="176" y="157" width="1" height="1" fill="#A5A294"/><rect x="176" y="159" width="1" height="1" fill="#A5A294"/><rect x="176" y="161" width="1" height="1" fill="#A5A294"/><rect x="176" y="163" width="1" height="1" fill="#A5A294"/><rect x="176" y="165" width="1" height="1" fill="#A5A294"/><rect x="176" y="167" width="1" height="1" fill="#A5A294"/><rect x="176" y="169" width="1" height="1" fill="#A5A294"/><rect x="176" y="171" width="1" height="1" fill="#A5A294"/><rect x="176" y="173" width="1" height="1" fill="#A5A294"/><rect x="176" y="175" width="1" height="1" fill="#A5A294"/><rect x="176" y="177" width="1" height="1" fill="#A5A294"/><rect x="176" y="179" width="1" height="1" fill="#A5A294"/><rect x="176" y="181" width="1" height="1" fill="#A5A294"/><rect x="176" y="183" width="1" height="1" fill="#A5A294"/><rect x="176" y="185" width="1" height="1" fill="#A5A294"/><rect x="176" y="187" width="1" height="1" fill="#A5A294"/><rect x="176" y="189" width="1" height="1" fill="#A5A294"/><rect x="176" y="191" width="1" height="1" fill="#A5A294"/><rect x="176" y="193" width="1" height="1" fill="#A5A294"/><rect x="176" y="195" width="1" height="1" fill="#A5A294"/><rect x="176" y="197" width="1" height="1" fill="#A5A294"/><rect x="176" y="199" width="1" height="1" fill="#A5A294"/><rect x="176" y="201" width="1" height="1" fill="#A5A294"/><rect x="176" y="203" width="1" height="1" fill="#A5A294"/><rect x="176" y="205" width="1" height="1" fill="#A5A294"/><rect x="176" y="207" width="1" height="1" fill="#A5A294"/><rect x="176" y="209" width="1" height="1" fill="#A5A294"/><rect x="176" y="211" width="1" height="1" fill="#A5A294"/><rect x="176" y="213" width="1" height="1" fill="#A5A294"/><rect x="176" y="215" width="1" height="1" fill="#A5A294"/><rect x="176" y="217" width="1" height="1" fill="#A5A294"/><rect x="176" y="219" width="1" height="1" fill="#A5A294"/><rect x="176" y="221" width="1" height="1" fill="#A5A294"/><rect x="176" y="223" width="1" height="1" fill="#A5A294"/><rect x="176" y="225" width="1" height="1" fill="#A5A294"/><rect x="176" y="227" width="1" height="1" fill="#A5A294"/><rect x="176" y="229" width="1" height="1" fill="#A5A294"/><rect x="176" y="231" width="1" height="1" fill="#A5A294"/><rect x="176" y="383" width="1" height="1" fill="#A5A294"/><rect x="176" y="385" width="1" height="1" fill="#A5A294"/><rect x="176" y="387" width="1" height="1" fill="#A5A294"/><rect x="176" y="389" width="1" height="1" fill="#A5A294"/><rect x="176" y="391" width="1" height="1" fill="#A5A294"/><rect x="135" y="91" width="1" height="1" fill="#A5A294"/><rect x="137" y="91" width="1" height="1" fill="#A5A294"/><rect x="139" y="91" width="1" height="1" fill="#A5A294"/><rect x="135" y="271" width="1" height="1" fill="#A5A294"/><rect x="137" y="271" width="1" height="1" fill="#A5A294"/><rect x="139" y="271" width="1" height="1" fill="#A5A294"/><rect x="135" y="331" width="1" height="1" fill="#A5A294"/><rect x="137" y="331" width="1" height="1" fill="#A5A294"/><rect x="139" y="331" width="1" height="1" fill="#A5A294"/><rect x="135" y="411" width="1" height="1" fill="#A5A294"/><rect x="137" y="411" width="1" height="1" fill="#A5A294"/><rect x="139" y="411" width="1" height="1" fill="#A5A294"/><rect x="135" y="431" width="1" height="1" fill="#A5A294"/><rect x="137" y="431" width="1" height="1" fill="#A5A294"/><rect x="139" y="431" width="1" height="1" fill="#A5A294"/><rect x="135" y="451" width="1" height="1" fill="#A5A294"/><rect x="137" y="451" width="1" height="1" fill="#A5A294"/><rect x="139" y="451" width="1" height="1" fill="#A5A294"/><rect x="135" y="471" width="1" height="1" fill="#A5A294"/><rect x="137" y="471" width="1" height="1" fill="#A5A294"/><rect x="139" y="471" width="1" height="1" fill="#A5A294"/><rect x="135" y="491" width="1" height="1" fill="#A5A294"/><rect x="137" y="491" width="1" height="1" fill="#A5A294"/><rect x="139" y="491" width="1" height="1" fill="#A5A294"/><rect x="158" y="111" width="1" height="1" fill="#A5A294"/><rect x="160" y="111" width="1" height="1" fill="#A5A294"/><rect x="162" y="111" width="1" height="1" fill="#A5A294"/><rect x="164" y="111" width="1" height="1" fill="#A5A294"/><rect x="158" y="371" width="1" height="1" fill="#A5A294"/><rect x="160" y="371" width="1" height="1" fill="#A5A294"/><rect x="162" y="371" width="1" height="1" fill="#A5A294"/><rect x="164" y="371" width="1" height="1" fill="#A5A294"/><rect x="155" y="251" width="1" height="1" fill="#A5A294"/><rect x="157" y="251" width="1" height="1" fill="#A5A294"/><rect x="159" y="251" width="1" height="1" fill="#A5A294"/><rect x="161" y="251" width="1" height="1" fill="#A5A294"/><rect x="163" y="251" width="1" height="1" fill="#A5A294"/><rect x="155" y="311" width="1" height="1" fill="#A5A294"/><rect x="157" y="311" width="1" height="1" fill="#A5A294"/><rect x="159" y="311" width="1" height="1" fill="#A5A294"/><rect x="161" y="311" width="1" height="1" fill="#A5A294"/><rect x="163" y="311" width="1" height="1" fill="#A5A294"/><rect x="155" y="291" width="1" height="1" fill="#A5A294"/><rect x="157" y="291" width="1" height="1" fill="#A5A294"/><rect x="159" y="291" width="1" height="1" fill="#A5A294"/><rect x="161" y="291" width="1" height="1" fill="#A5A294"/><rect x="163" y="291" width="1" height="1" fill="#A5A294"/><rect x="165" y="291" width="1" height="1" fill="#A5A294"/><rect x="155" y="351" width="1" height="1" fill="#A5A294"/><rect x="157" y="351" width="1" height="1" fill="#A5A294"/><rect x="159" y="351" width="1" height="1" fill="#A5A294"/><rect x="161" y="351" width="1" height="1" fill="#A5A294"/><rect x="163" y="351" width="1" height="1" fill="#A5A294"/><rect x="165" y="351" width="1" height="1" fill="#A5A294"/><rect x="178" y="131" width="1" height="1" fill="#A5A294"/><rect x="180" y="131" width="1" height="1" fill="#A5A294"/><rect x="182" y="131" width="1" height="1" fill="#A5A294"/><rect x="184" y="131" width="1" height="1" fill="#A5A294"/><rect x="178" y="151" width="1" height="1" fill="#A5A294"/><rect x="180" y="151" width="1" height="1" fill="#A5A294"/><rect x="182" y="151" width="1" height="1" fill="#A5A294"/><rect x="184" y="151" width="1" height="1" fill="#A5A294"/><rect x="178" y="171" width="1" height="1" fill="#A5A294"/><rect x="180" y="171" width="1" height="1" fill="#A5A294"/><rect x="182" y="171" width="1" height="1" fill="#A5A294"/><rect x="184" y="171" width="1" height="1" fill="#A5A294"/><rect x="178" y="191" width="1" height="1" fill="#A5A294"/><rect x="180" y="191" width="1" height="1" fill="#A5A294"/><rect x="182" y="191" width="1" height="1" fill="#A5A294"/><rect x="184" y="191" width="1" height="1" fill="#A5A294"/><rect x="178" y="211" width="1" height="1" fill="#A5A294"/><rect x="180" y="211" width="1" height="1" fill="#A5A294"/><rect x="182" y="211" width="1" height="1" fill="#A5A294"/><rect x="184" y="211" width="1" height="1" fill="#A5A294"/><rect x="178" y="231" width="1" height="1" fill="#A5A294"/><rect x="180" y="231" width="1" height="1" fill="#A5A294"/><rect x="182" y="231" width="1" height="1" fill="#A5A294"/><rect x="184" y="231" width="1" height="1" fill="#A5A294"/><rect x="178" y="391" width="1" height="1" fill="#A5A294"/><rect x="180" y="391" width="1" height="1" fill="#A5A294"/><rect x="182" y="391" width="1" height="1" fill="#A5A294"/><rect x="184" y="391" width="1" height="1" fill="#A5A294"/><rect x="102" y="71" width="1" height="1" fill="#A5A294"/><use href="#expM" x="103" y="67"/><use href="#expM" x="126" y="87"/><use href="#expM" x="126" y="267"/><use href="#expM" x="126" y="327"/><use href="#expP" x="126" y="407"/><use href="#expP" x="126" y="427"/><use href="#expP" x="126" y="447"/><use href="#expP" x="126" y="467"/><use href="#expP" x="126" y="487"/><use href="#expM" x="149" y="107"/><use href="#expM" x="149" y="367"/><use href="#icStack" x="120" y="61"/><use href="#icMove" x="143" y="85"/><use href="#icBox" x="163" y="81"/><use href="#corners" x="163" y="81"/><use href="#icMove" x="143" y="265"/><use href="#icBox" x="163" y="261"/><use href="#corners" x="163" y="261"/><use href="#icLR" x="143" y="326"/><use href="#icBox" x="163" y="321"/><use href="#corners" x="163" y="321"/><use href="#badge" x="175" y="321"/><use href="#icLR" x="143" y="406"/><use href="#icBox" x="163" y="401"/><use href="#corners" x="163" y="401"/><use href="#badge" x="175" y="401"/><use href="#icLR" x="143" y="426"/><use href="#icBox" x="163" y="421"/><use href="#corners" x="163" y="421"/><use href="#badge" x="175" y="421"/><use href="#icLR" x="143" y="446"/><use href="#icBox" x="163" y="441"/><use href="#corners" x="163" y="441"/><use href="#badge" x="175" y="441"/><use href="#icLR" x="143" y="466"/><use href="#icBox" x="163" y="461"/><use href="#corners" x="163" y="461"/><use href="#badge" x="175" y="461"/><use href="#icLR" x="143" y="486"/><use href="#icBox" x="163" y="481"/><use href="#corners" x="163" y="481"/><use href="#badge" x="175" y="481"/><use href="#clip" x="170" y="102" stroke="#D5B54E"/><use href="#clip" x="169" y="283" stroke="#D5B54E"/><use href="#clip" x="170" y="344" stroke="#D5B54E"/><use href="#clip" x="169" y="241" stroke="#1A84E6"/><use href="#clip" x="169" y="303" stroke="#1A84E6"/><use href="#clip" x="170" y="364" stroke="#1A84E6"/><use href="#icCoin" x="210" y="120"/><use href="#icCoin" x="210" y="141"/><use href="#icCoin" x="210" y="161.4"/><use href="#icCoin" x="210" y="181.9"/><use href="#icCoin" x="210" y="202.2"/><use href="#icCoin" x="210" y="222"/><use href="#icCoin" x="210" y="381.2"/><rect x="186.5" y="81.5" width="94" height="19" fill="#FF2424" stroke="#000"/><rect x="186.5" y="321.5" width="86" height="19" fill="#22FF22" stroke="#000"/><rect x="232" y="381" width="56" height="20" fill="#316AC5"/><text x="145" y="75" font-size="11" font-weight="bold" fill="#000" stroke="#000" stroke-width="0.35" textLength="67.3" lengthAdjust="spacingAndGlyphs">Porta-molde</text><text x="188.1" y="95" font-size="11" fill="#000" stroke="#000" stroke-width="0.22" textLength="91.2" lengthAdjust="spacingAndGlyphs">Placa intermediária</text><text x="187.7" y="275" font-size="11" fill="#000" stroke="#000" stroke-width="0.22" textLength="91.2" lengthAdjust="spacingAndGlyphs">Placa intermediária</text><text x="188.5" y="335" font-size="11" fill="#000" stroke="#000" stroke-width="0.22" textLength="82.3" lengthAdjust="spacingAndGlyphs">Cabeça cilíndrica</text><text x="188.5" y="415" font-size="11" fill="#000" stroke="#000" stroke-width="0.22" textLength="82.3" lengthAdjust="spacingAndGlyphs">Cabeça cilíndrica</text><text x="188.5" y="435" font-size="11" fill="#000" stroke="#000" stroke-width="0.22" textLength="82.3" lengthAdjust="spacingAndGlyphs">Cabeça cilíndrica</text><text x="188.5" y="455" font-size="11" fill="#000" stroke="#000" stroke-width="0.22" textLength="82.3" lengthAdjust="spacingAndGlyphs">Cabeça cilíndrica</text><text x="187.4" y="475" font-size="11" fill="#000" stroke="#000" stroke-width="0.22" textLength="101.3" lengthAdjust="spacingAndGlyphs">Pino ejetor (Z41/8x1)</text><text x="187.4" y="495" font-size="11" fill="#000" stroke="#000" stroke-width="0.22" textLength="95.9" lengthAdjust="spacingAndGlyphs">Localização da colu</text><text x="190.6" y="115" font-size="11" fill="#000" stroke="#000" stroke-width="0.22" textLength="93.4" lengthAdjust="spacingAndGlyphs">Relações Principais</text><text x="190.6" y="295" font-size="11" fill="#000" stroke="#000" stroke-width="0.22" textLength="93.4" lengthAdjust="spacingAndGlyphs">Relações Principais</text><text x="190.6" y="355" font-size="11" fill="#000" stroke="#000" stroke-width="0.22" textLength="93.4" lengthAdjust="spacingAndGlyphs">Relações Principais</text><text x="190.3" y="255" font-size="11" fill="#000" stroke="#000" stroke-width="0.22" textLength="95.7" lengthAdjust="spacingAndGlyphs">Relações Secundári</text><text x="190.3" y="315" font-size="11" fill="#000" stroke="#000" stroke-width="0.22" textLength="95.7" lengthAdjust="spacingAndGlyphs">Relações Secundári</text><text x="190.3" y="375" font-size="11" fill="#000" stroke="#000" stroke-width="0.22" textLength="95.7" lengthAdjust="spacingAndGlyphs">Relações Secundári</text><text x="234.7" y="135" font-size="11" fill="#000" stroke="#000" stroke-width="0.22" textLength="46.3" lengthAdjust="spacingAndGlyphs">Coinciden</text><text x="234.7" y="175" font-size="11" fill="#000" stroke="#000" stroke-width="0.22" textLength="46.3" lengthAdjust="spacingAndGlyphs">Coinciden</text><text x="234.7" y="195" font-size="11" fill="#000" stroke="#000" stroke-width="0.22" textLength="46.3" lengthAdjust="spacingAndGlyphs">Coinciden</text><text x="234.7" y="215" font-size="11" fill="#000" stroke="#000" stroke-width="0.22" textLength="46.3" lengthAdjust="spacingAndGlyphs">Coinciden</text><text x="234.7" y="235" font-size="11" fill="#000" stroke="#000" stroke-width="0.22" textLength="46.3" lengthAdjust="spacingAndGlyphs">Coinciden</text><text x="233.7" y="155" font-size="11" fill="#000" stroke="#000" stroke-width="0.22" textLength="46.3" lengthAdjust="spacingAndGlyphs">Coinciden</text><text x="234.7" y="395" font-size="11" fill="#fff" stroke="#fff" stroke-width="0.22" textLength="49.3" lengthAdjust="spacingAndGlyphs">Coincident</text></svg><defs><linearGradient id="gMouse" x1="0" y1="0" x2="0.3" y2="1"><stop offset="0" stop-color="#FAFAFA"/><stop offset="0.6" stop-color="#F0F0F0"/><stop offset="1" stop-color="#D8D8D8"/></linearGradient></defs><path d="M41,382 C38.5,377.5 33.5,375.5 30.2,378 C27.5,380.2 25.5,383 22.3,382.6 C19.3,382.2 18.6,378.6 20.6,377.1 C22,376.1 24,376.2 25.5,376.6" stroke="#7A7A7A" stroke-width="3.8" fill="none" stroke-linecap="round"/><path d="M41,382 C38.5,377.5 33.5,375.5 30.2,378 C27.5,380.2 25.5,383 22.3,382.6 C19.3,382.2 18.6,378.6 20.6,377.1 C22,376.1 24,376.2 25.5,376.6" stroke="#EEEEEE" stroke-width="1.8" fill="none" stroke-linecap="round"/><path d="M28,386.5 C31,382.5 37,381 42,381.3 C50,382 57,388 60,396 C62.5,403 63,412 58,417.5 C54,421.5 44,422 36,418.5 C29.5,415.5 26.5,408 26,401 C25.7,395 26,390 28,386.5 Z" fill="url(#gMouse)" stroke="#858585" stroke-width="1.4"/><path d="M27.8,393.8 C27.5,390 28,387.5 30.5,385.5 C32.5,384 35.5,383 37.8,382.8 L38.3,391 C35,391.5 31,392.8 27.8,393.8 Z" fill="#FF0A0A"/><path d="M38.5,390 C44,389.5 49,390 54,392" stroke="#B0B0B0" stroke-width="0.8" fill="none"/><ellipse cx="41" cy="388.5" rx="1.9" ry="3" transform="rotate(-15 41 388.5)" fill="#6E72DE" stroke="#5658B8" stroke-width="0.5"/><text x="29.6" y="409.6" font-size="23" font-weight="bold" font-style="italic" fill="#000">x2</text><line x1="65.8" y1="391.3" x2="190" y2="389.9" stroke="#FF0000" stroke-width="3.9" stroke-dasharray="12.2,3.85"/><polygon points="189.3,380 209.1,389.4 189.3,399.7" fill="#FF0000"/></svg>
</body></html>
